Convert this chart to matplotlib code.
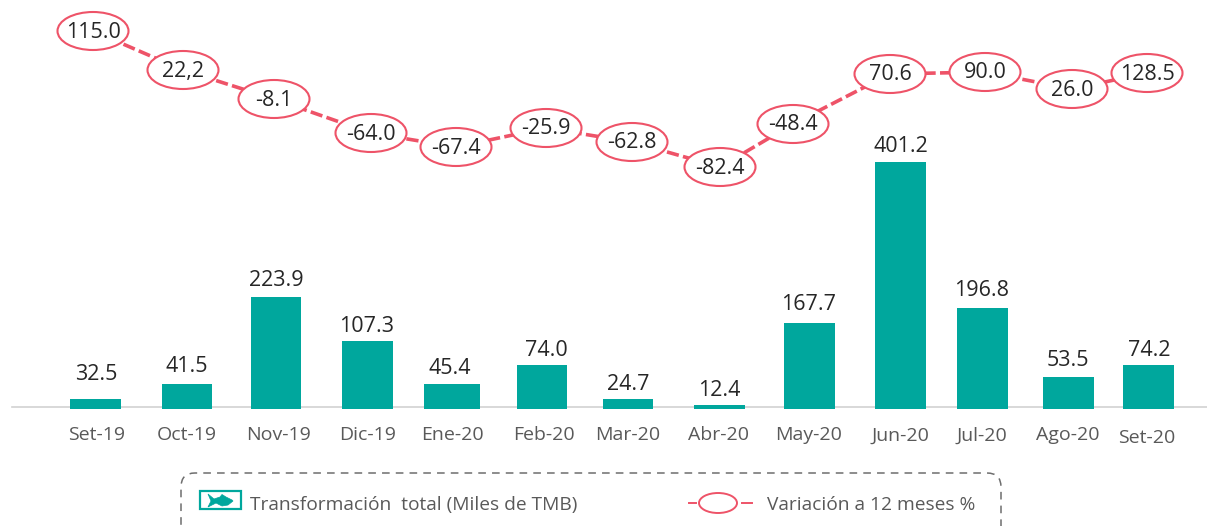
import matplotlib
matplotlib.use("Agg")
import matplotlib.pyplot as plt
from matplotlib.patches import Ellipse, FancyBboxPatch, Rectangle, Polygon
from matplotlib.transforms import ScaledTranslation

plt.rcParams['font.family'] = ['Open Sans', 'DejaVu Sans']

months = ["Set-19", "Oct-19", "Nov-19", "Dic-19", "Ene-20", "Feb-20", "Mar-20",
          "Abr-20", "May-20", "Jun-20", "Jul-20", "Ago-20", "Set-20"]
bar_labels = ["32.5", "41.5", "223.9", "107.3", "45.4", "74.0", "24.7",
              "12.4", "167.7", "401.2", "196.8", "53.5", "74.2"]
# drawn bar heights (the source is not to scale)
bar_heights = [10, 25, 112, 68, 25, 44, 10, 4, 86, 247, 101, 32, 44]
var_labels = ["115.0", "22,2", "-8.1", "-64.0", "-67.4", "-25.9", "-62.8",
              "-82.4", "-48.4", "70.6", "90.0", "26.0", "128.5"]
# drawn line levels (the source is not to scale)
var_levels = [378, 339, 310, 276, 262, 281, 267, 242, 285, 335, 337, 320, 336]

# irregular horizontal layout of the source
bar_left = [70, 162, 251, 342, 424, 517, 603, 694, 784, 875, 957, 1043, 1123]
bar_right = [121, 212, 301, 393, 480, 567, 653, 745, 835, 926, 1008, 1094, 1174]
bar_label_x = [96, 187, 276, 367, 450, 546, 628, 719, 809, 901, 982, 1068, 1149]
bar_label_gap = [25, 17, 16, 14, 16, 14, 15, 15, 18, 15, 18, 16, 15]
tick_x = [97, 187, 278, 368, 452, 544, 628, 718, 809, 900, 982, 1068, 1147]
var_x = [93, 183, 274, 371, 456, 546, 632, 720, 793, 890, 985, 1072, 1147]

TEAL = "#00A79D"
RED = "#EE5368"
DARK = "#262626"
GREY = "#595959"

fig = plt.figure(figsize=(12.07, 5.26), dpi=100)
ax = fig.add_axes([0, 0, 1, 1])
ax.set_xlim(0, 1207)
ax.set_ylim(-117, 409)
for s in ("top", "left", "right"):
    ax.spines[s].set_visible(False)
ax.yaxis.set_visible(False)

# bars
centres = [(l + r) / 2 for l, r in zip(bar_left, bar_right)]
widths = [r - l for l, r in zip(bar_left, bar_right)]
ax.bar(centres, bar_heights, width=widths, color=TEAL, zorder=3)
for x, h, g, t in zip(bar_label_x, bar_heights, bar_label_gap, bar_labels):
    ax.text(x, h + g, t, ha="center", va="center", fontsize=15.5, color=DARK, zorder=6)

# axis line
ax.spines["bottom"].set_position(("data", 2))
ax.spines["bottom"].set_color("#D2D2D2")
ax.spines["bottom"].set_linewidth(1.2)
ax.spines["bottom"].set_bounds(12, 1207)
ax.set_xticks(tick_x, months)
ax.tick_params(axis="x", length=0, pad=14, labelsize=14, labelcolor=GREY)
last = ax.get_xticklabels()[-1]
last.set_transform(last.get_transform() + ScaledTranslation(0, -3 / 100, fig.dpi_scale_trans))

# variation line
ax.plot(var_x, var_levels, color=RED, lw=2.6, dashes=(3.4, 1.2), zorder=4)
for x, y, t in zip(var_x, var_levels, var_labels):
    ax.add_patch(Ellipse((x, y), 71, 38, facecolor="white", edgecolor=RED, lw=1.5, zorder=5))
    ax.text(x, y - 1, t, ha="center", va="center", fontsize=15.5, color=DARK, zorder=6)

# legend frame (runs off the bottom edge)
ax.add_patch(FancyBboxPatch((181, -140), 820, 76, boxstyle="round,pad=0,rounding_size=14",
                            fill=False, ec="#6E6E6E", lw=1.1, ls=(0, (5, 4)), zorder=2))

# legend bar icon with fish
ax.add_patch(Rectangle((199.5, -100), 41, 18, fill=False, ec=TEAL, lw=1.6, zorder=3))
ax.add_patch(Polygon([(208, -85), (214, -90), (220, -88), (222, -85.5), (226, -88), (232, -91),
                      (233, -92), (228, -96), (222, -97), (216, -94), (208, -98), (211, -92)],
                     closed=True, fc=TEAL, ec=TEAL, lw=0.5, zorder=3))
ax.text(250, -96, "Transformación  total (Miles de TMB)", ha="left", va="center",
        fontsize=13.8, color=GREY)

# legend line icon
ax.plot([689, 696], [-94, -94], color=RED, lw=1.4, zorder=3)
ax.plot([742, 752], [-94, -94], color=RED, lw=1.4, zorder=3)
ax.add_patch(Ellipse((718, -94), 38, 20, facecolor="white", edgecolor=RED, lw=1.4, zorder=4))
ax.text(767, -96, "Variación a 12 meses %", ha="left", va="center", fontsize=13.8, color=GREY)

fig.savefig("out.png", dpi=100)
